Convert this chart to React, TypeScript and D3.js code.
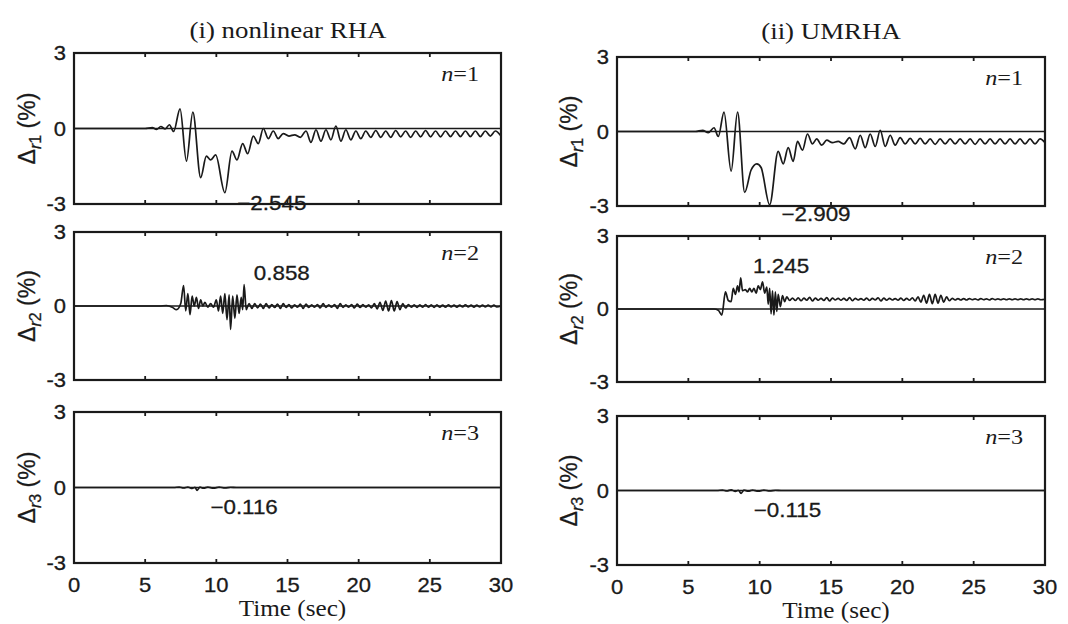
import React from "react";
import * as d3 from "d3";

type Pt = [number, number];

const xTicks = [0, 5, 10, 15, 20, 25, 30];
const yTicks = [-3, 0, 3];
const columnTitles = ["(i) nonlinear RHA", "(ii) UMRHA"];
const modeLabels = ["1", "2", "3"];

const rha1: Pt[] = [[0,0],[5,0],[5.5,0.04],[5.8,-0.04],[6.1,0.08],[6.4,-0.02],[6.7,0.15],[7.0,-0.12],[7.45,0.78],[7.9,-1.3],[8.35,0.65],[8.9,-1.95],[9.3,-1.1],[9.6,-1.25],[9.95,-1.05],[10.6,-2.55],[11.1,-0.9],[11.45,-1.25],[11.85,-0.6],[12.2,-1.0],[12.6,-0.3],[12.95,-0.6],[13.3,0.0],[13.65,-0.4],[14.0,-0.1],[14.35,-0.4],[14.7,-0.2],[15.1,-0.3],[15.5,-0.25],[15.9,-0.35],[16.3,-0.1],[16.65,-0.55],[17.0,-0.05],[17.35,-0.5],[17.7,-0.05],[18.05,-0.45],[18.4,0.1],[18.75,-0.5],[19.1,-0.05],[19.45,-0.45],[19.8,-0.1],[20.15,-0.4],[20.5,-0.1],[20.85,-0.35],[21.2,-0.08],[21.55,-0.35],[21.9,-0.1],[22.25,-0.35],[22.6,-0.08],[22.95,-0.33],[23.3,-0.1],[23.65,-0.35],[24.0,-0.1],[24.35,-0.33],[24.7,-0.08],[25.05,-0.33],[25.4,-0.1],[25.75,-0.33],[26.1,-0.1],[26.45,-0.32],[26.8,-0.1],[27.15,-0.32],[27.5,-0.1],[27.85,-0.32],[28.2,-0.1],[28.55,-0.32],[28.9,-0.1],[29.25,-0.3],[29.6,-0.1],[30,-0.3]];

const um1: Pt[] = [[0,0],[5.5,0],[6.0,0.05],[6.4,-0.05],[6.8,0.15],[7.1,-0.2],[7.5,0.78],[8.0,-1.6],[8.45,0.78],[8.95,-2.45],[9.4,-1.55],[9.8,-1.3],[10.1,-1.45],[10.7,-2.95],[11.3,-0.8],[11.65,-1.3],[12.0,-0.65],[12.35,-1.2],[12.65,-0.4],[13.0,-0.75],[13.35,-0.1],[13.7,-0.5],[14.0,-0.3],[14.35,-0.55],[14.7,-0.35],[15.1,-0.45],[15.5,-0.4],[15.9,-0.5],[16.3,-0.25],[16.7,-0.7],[17.05,-0.15],[17.4,-0.65],[17.75,-0.1],[18.1,-0.6],[18.45,0.05],[18.8,-0.6],[19.15,-0.15],[19.5,-0.55],[19.85,-0.25],[20.2,-0.5],[20.55,-0.28],[20.9,-0.5],[21.25,-0.28],[21.6,-0.5],[21.95,-0.3],[22.3,-0.52],[22.65,-0.3],[23.0,-0.5],[23.35,-0.3],[23.7,-0.5],[24.05,-0.3],[24.4,-0.5],[24.75,-0.3],[25.1,-0.52],[25.45,-0.3],[25.8,-0.5],[26.15,-0.3],[26.5,-0.5],[26.85,-0.3],[27.2,-0.5],[27.55,-0.3],[27.9,-0.5],[28.25,-0.3],[28.6,-0.5],[28.95,-0.3],[29.3,-0.5],[29.65,-0.3],[30,-0.45]];

const rha2: Pt[] = [[0,0],[6.0,0],[6.5,0.02],[6.9,-0.05],[7.2,-0.15],[7.5,0.1],[7.7,0.83],[7.85,-0.2],[8.0,0.5],[8.15,-0.35],[8.3,0.4],[8.45,0.0],[8.6,0.35],[8.75,-0.1],[8.9,0.25],[9.05,0.0],[9.2,0.15],[9.4,-0.05],[9.6,0.1],[9.8,-0.05],[10.0,0.25],[10.15,-0.2],[10.3,0.4],[10.45,-0.3],[10.6,0.5],[10.75,-0.55],[10.9,0.45],[11.0,-0.95],[11.15,0.4],[11.3,-0.5],[11.45,0.45],[11.6,-0.3],[11.75,0.35],[11.85,-0.15],[11.95,0.87],[12.1,-0.15],[12.3,0.1],[12.5,-0.1],[12.7,0.1],[12.9,-0.08],[13.1,0.08],[13.3,-0.1],[13.5,0.1],[13.7,-0.08],[13.9,0.06],[14.1,-0.06],[14.3,0.08],[14.5,-0.1],[14.7,0.1],[14.9,-0.06],[15.1,0.06],[15.3,-0.08],[15.5,0.05],[15.7,-0.05],[15.9,0.08],[16.1,-0.1],[16.3,0.08],[16.5,-0.06],[16.7,0.05],[16.9,-0.05],[17.1,0.06],[17.3,-0.08],[17.5,0.1],[17.7,-0.06],[17.9,0.05],[18.1,-0.05],[18.3,0.06],[18.5,-0.1],[18.7,0.1],[18.9,-0.06],[19.1,0.05],[19.3,-0.05],[19.5,0.06],[19.7,-0.08],[19.9,0.08],[20.1,-0.06],[20.3,0.06],[20.5,-0.05],[20.7,0.05],[20.9,-0.08],[21.1,0.1],[21.3,-0.12],[21.5,0.15],[21.7,-0.18],[21.9,0.2],[22.1,-0.2],[22.3,0.22],[22.5,-0.2],[22.7,0.18],[22.9,-0.15],[23.1,0.1],[23.3,-0.08],[23.5,0.06],[23.7,-0.05],[23.9,0.05],[24.1,-0.06],[24.3,0.05],[24.5,-0.05],[24.7,0.06],[24.9,-0.05],[25.1,0.05],[25.3,-0.06],[25.5,0.05],[25.7,-0.05],[25.9,0.04],[26.1,-0.05],[26.3,0.05],[26.5,-0.04],[26.7,0.04],[26.9,-0.05],[27.1,0.04],[27.3,-0.04],[27.5,0.05],[27.7,-0.04],[27.9,0.04],[28.1,-0.05],[28.3,0.04],[28.5,-0.04],[28.7,0.04],[28.9,-0.04],[29.1,0.04],[29.3,-0.04],[29.5,0.04],[29.7,-0.04],[30,0]];

const um2: Pt[] = [[0,0],[6.8,0],[7.1,-0.05],[7.35,-0.25],[7.6,0.7],[7.8,0.35],[8.0,0.3],[8.15,0.85],[8.3,0.6],[8.45,0.95],[8.55,0.7],[8.67,1.28],[8.8,0.75],[9.0,0.8],[9.15,0.7],[9.3,0.85],[9.45,0.7],[9.6,0.85],[9.75,0.65],[9.9,0.95],[10.05,0.8],[10.2,1.12],[10.35,0.65],[10.5,0.9],[10.6,0.2],[10.7,0.85],[10.8,-0.2],[10.9,0.75],[11.0,-0.25],[11.1,0.7],[11.2,-0.1],[11.3,0.6],[11.45,0.1],[11.6,0.55],[11.75,0.3],[11.9,0.5],[12.1,0.35],[12.3,0.45],[12.5,0.35],[12.7,0.46],[12.9,0.34],[13.1,0.45],[13.3,0.36],[13.5,0.48],[13.7,0.33],[13.9,0.45],[14.1,0.36],[14.3,0.44],[14.5,0.35],[14.7,0.47],[14.9,0.33],[15.1,0.45],[15.3,0.37],[15.5,0.44],[15.7,0.36],[15.9,0.44],[16.1,0.35],[16.3,0.47],[16.5,0.34],[16.7,0.44],[16.9,0.37],[17.1,0.43],[17.3,0.36],[17.5,0.45],[17.7,0.35],[17.9,0.44],[18.1,0.37],[18.3,0.46],[18.5,0.33],[18.7,0.45],[18.9,0.36],[19.1,0.44],[19.3,0.37],[19.5,0.43],[19.7,0.36],[19.9,0.45],[20.1,0.35],[20.3,0.44],[20.5,0.36],[20.7,0.46],[20.9,0.33],[21.1,0.5],[21.3,0.28],[21.5,0.56],[21.7,0.24],[21.9,0.6],[22.1,0.22],[22.3,0.6],[22.5,0.24],[22.7,0.56],[22.9,0.28],[23.1,0.5],[23.3,0.34],[23.5,0.44],[23.7,0.37],[23.9,0.43],[24.1,0.37],[24.3,0.43],[24.5,0.37],[24.7,0.43],[24.9,0.38],[25.1,0.42],[25.3,0.37],[25.5,0.43],[25.7,0.38],[25.9,0.42],[26.1,0.37],[26.3,0.43],[26.5,0.38],[26.7,0.42],[26.9,0.38],[27.1,0.42],[27.3,0.38],[27.5,0.42],[27.7,0.38],[27.9,0.42],[28.1,0.38],[28.3,0.42],[28.5,0.38],[28.7,0.42],[28.9,0.38],[29.1,0.42],[29.3,0.38],[29.5,0.42],[29.7,0.38],[30,0.4]];

const rha3: Pt[] = [[0,0],[7.0,0],[7.4,0.02],[7.7,-0.02],[8.0,0.02],[8.3,-0.04],[8.5,0.01],[8.65,-0.116],[8.85,0.02],[9.1,-0.03],[9.4,0.02],[9.8,-0.03],[10.2,0.02],[10.6,-0.02],[11.0,0.01],[11.4,0],[30,0]];

const um3: Pt[] = [[0,0],[7.0,0],[7.4,0.02],[7.7,-0.02],[8.0,0.03],[8.3,-0.04],[8.5,0.01],[8.7,-0.115],[8.9,0.02],[9.2,-0.03],[9.5,0.02],[9.9,-0.03],[10.3,0.02],[10.7,-0.02],[11.1,0.01],[11.5,0],[30,0]];

const peakLabels = [["−2.545", "0.858", "−0.116"], ["−2.909", "1.245", "−0.115"]];

// layout
const columns = [
  { x0: 74, x1: 501, rows: [[53, 204], [232, 380], [412, 563]], series: [rha1, rha2, rha3],
    labelPos: [[13.9, -3.25], [14.6, 1.05], [11.95, -1.07]], titleX: 288, titleY: 38, ylabX: 27 },
  { x0: 617, x1: 1045, rows: [[57, 206], [236, 382], [416, 565]], series: [um1, um2, um3],
    labelPos: [[13.95, -3.6], [11.5, 1.46], [11.95, -1.08]], titleX: 831, titleY: 39, ylabX: 569 },
];

const SANS = "'Liberation Sans', Arial, sans-serif";
const SERIF = "'Liberation Serif', 'Times New Roman', serif";
const INK = "#1a1a1a";

function T({ x, y, sx = 1, anchor = "middle", size, family, children, weight = 0.3 }: any) {
  return (
    <text
      transform={`translate(${x},${y}) scale(${sx},1)`}
      textAnchor={anchor}
      fontSize={size}
      fontFamily={family}
      fill={INK}
      stroke={weight > 0 ? INK : "none"}
      strokeWidth={weight}
    >
      {children}
    </text>
  );
}

function Panel({ col, ri, showX }: any) {
  const [y0, y1] = col.rows[ri];
  const x = d3.scaleLinear().domain([0, 30]).range([col.x0, col.x1]);
  const y = d3.scaleLinear().domain([-3, 3]).range([y1, y0]);
  const line = d3.line<Pt>().x((d) => x(d[0])).y((d) => y(d[1])).curve(d3.curveMonotoneX);
  const data: Pt[] = col.series[ri];
  const [lt, lv] = col.labelPos[ri];
  const colIdx = columns.indexOf(col);
  const cy = y(0);
  return (
    <g>
      <line x1={x(0)} x2={x(30)} y1={y(0)} y2={y(0)} stroke={INK} strokeWidth={1.7} />
      <path d={line(data) || ""} fill="none" stroke={INK} strokeWidth={1.7} strokeLinejoin="round" />
      <rect x={x(0)} y={y(3)} width={x(30) - x(0)} height={y(-3) - y(3)} fill="none" stroke={INK} strokeWidth={2.2} />
      {xTicks.slice(1, -1).map((t) => (
        <g key={t}>
          <line x1={x(t)} x2={x(t)} y1={y(3)} y2={y(3) + 4} stroke={INK} strokeWidth={1.8} />
          <line x1={x(t)} x2={x(t)} y1={y(-3)} y2={y(-3) - 4} stroke={INK} strokeWidth={1.8} />
        </g>
      ))}
      {yTicks.map((v) => (
        <T key={v} x={x(0) - 8} y={y(v) + 7} sx={1.1} anchor="end" size={20} family={SANS}>
          {v < 0 ? "-" + Math.abs(v) : String(v)}
        </T>
      ))}
      {showX &&
        xTicks.map((t) => (
          <T key={t} x={x(t)} y={y(-3) + 29} sx={1.1} size={20} family={SANS}>
            {t}
          </T>
        ))}
      {showX && (
        <T x={(x(0) + x(30)) / 2 + 5} y={y(-3) + 53} sx={1.05} size={24} family={SERIF} weight={0}>
          Time (sec)
        </T>
      )}
      <T x={x(30) - 22} y={y(3) + 28} sx={1.1} anchor="end" size={22} family={SERIF} weight={0}>
        <tspan fontStyle="italic">n</tspan>={modeLabels[ri]}
      </T>
      <T x={x(lt)} y={y(lv)} sx={1.12} size={20} family={SANS}>
        {peakLabels[colIdx][ri]}
      </T>
      <g transform={`translate(${col.ylabX},${cy}) rotate(-90)`}>
        <text textAnchor="middle" fontFamily={SANS} fontSize={23} fill={INK} stroke={INK} strokeWidth={0.3} dy={8}>
          <tspan>Δ</tspan>
          <tspan dy={6} fontSize={16} fontStyle="italic">r</tspan>
          <tspan fontSize={16}>{modeLabels[ri]}</tspan>
          <tspan dy={-6}> (%)</tspan>
        </text>
      </g>
    </g>
  );
}

export default function App() {
  return (
    <svg width={1068} height={624} style={{ position: "absolute", left: 0, top: 0, background: "#fff" }}>
      <rect width={1068} height={624} fill="#fff" />
      {columns.map((col, ci) => (
        <g key={ci}>
          <T x={col.titleX} y={col.titleY} sx={1.12} size={24} family={SERIF} weight={0}>
            {columnTitles[ci]}
          </T>
          {[0, 1, 2].map((ri) => (
            <Panel key={ri} col={col} ri={ri} showX={ri === 2} />
          ))}
        </g>
      ))}
    </svg>
  );
}
